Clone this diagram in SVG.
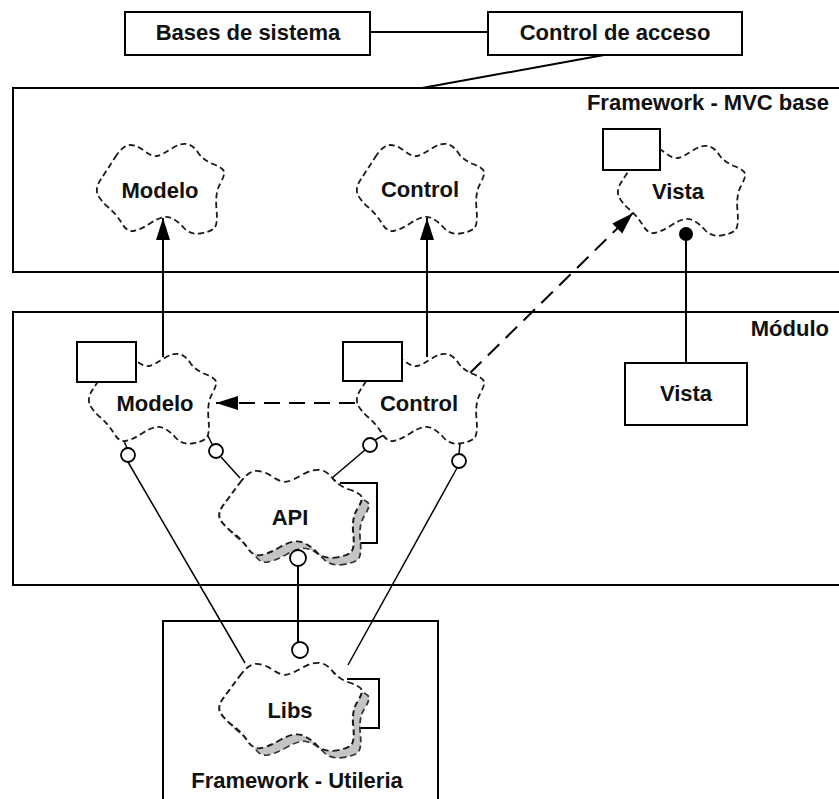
<svg xmlns="http://www.w3.org/2000/svg" xmlns:xlink="http://www.w3.org/1999/xlink" width="839" height="799" viewBox="0 0 839 799">
<style>
.frame{fill:none;stroke:#000;stroke-width:2}
.box{fill:#fff;stroke:#000;stroke-width:2}
.cloud{fill:#fff;stroke:#1a1a1a;stroke-width:1.8;stroke-dasharray:6 3.5}
.shadow{fill:#c4c4c4;stroke:#333;stroke-width:1.6;stroke-dasharray:6 3.5}
.ln{stroke:#000;stroke-width:2;fill:none}
.thin{stroke:#000;stroke-width:1.5;fill:none}
.dash{stroke:#000;stroke-width:2;stroke-dasharray:16 9;fill:none}
.lol{fill:#fff;stroke:#000;stroke-width:1.8}
text{font-family:"Liberation Sans",Arial,sans-serif;font-size:22px;font-weight:bold;fill:#111}
.c{text-anchor:middle}
.r{text-anchor:end}
</style>
<defs>
<path id="cloud" d="M-45,-32.5 Q-37,-45 -30,-45 Q-23,-45 -15.5,-39 Q-8,-33 -3,-34 Q2,-35 11,-41 Q20,-47 26.5,-46 Q33,-45 38,-37.5 Q43,-30 53,-26 Q63,-22 64,-18.5 Q65,-15 60,-6 Q55,3 56.5,19 Q58,35 54,38.5 Q50,42 40,43.5 Q30,45 23.5,37.5 Q17,30 10,27.5 Q3,25 -8.5,32.5 Q-20,40 -26.5,41 Q-33,42 -38,33.5 Q-43,25 -51.5,17.5 Q-60,10 -62.5,4 Q-65,-2 -59,-11 Q-53,-20 -45,-32.5 Z"/>
<marker id="ah" markerUnits="userSpaceOnUse" markerWidth="24" markerHeight="16" refX="22" refY="7" orient="auto">
<path d="M0,0 L22,7 L0,14 Z" fill="#000"/>
</marker>
</defs>

<g id="frame-mvc"><rect class="frame" x="13" y="88" width="840" height="184"/><text class="r" x="829" y="110">Framework - MVC base</text></g>
<g id="frame-modulo"><rect class="frame" x="13" y="312" width="840" height="273"/><text class="r" x="829" y="336">Módulo</text></g>
<g id="frame-utileria"><rect class="frame" x="163" y="621" width="275" height="200"/><text class="c" x="297" y="788">Framework - Utileria</text></g>

<g id="connectors">
<line class="ln" x1="370" y1="32" x2="488" y2="32"/>
<line class="ln" x1="604" y1="55" x2="422" y2="88"/>
<line class="ln" x1="163" y1="357" x2="163" y2="218" marker-end="url(#ah)"/>
<line class="ln" x1="427" y1="357" x2="427" y2="218" marker-end="url(#ah)"/>
<line class="dash" x1="470" y1="373" x2="633" y2="213" marker-end="url(#ah)"/>
<line class="dash" x1="355" y1="403" x2="216" y2="403" marker-end="url(#ah)"/>
<line class="ln" x1="686" y1="236" x2="686" y2="363"/>
<line class="thin" x1="128" y1="462" x2="245" y2="663"/>
<line class="thin" x1="221" y1="457" x2="240" y2="478"/>
<line class="thin" x1="365" y1="450" x2="332" y2="478"/>
<line class="thin" x1="457" y1="468" x2="348" y2="665"/>
<line class="ln" x1="298" y1="566" x2="298" y2="642"/>
<polyline class="ln" points="340,483 377,483 377,543 360,543"/>
<polyline class="ln" points="347,679 379,679 379,728 355,728"/>
<line class="thin" x1="124" y1="441" x2="127" y2="448"/>
<line class="thin" x1="208" y1="436" x2="213" y2="446"/>
<line class="thin" x1="384" y1="435" x2="375" y2="440"/>
<line class="thin" x1="460" y1="443" x2="459" y2="454"/>
</g>

<g id="bases"><rect class="box" x="125" y="12" width="245" height="43"/><text class="c" x="248" y="40">Bases de sistema</text></g>
<g id="acceso"><rect class="box" x="488" y="12" width="254" height="43"/><text class="c" x="615" y="40">Control de acceso</text></g>

<g id="modelo-base"><use href="#cloud" class="cloud" transform="translate(160,190)"/><text class="c" x="160" y="198">Modelo</text></g>
<g id="control-base"><use href="#cloud" class="cloud" transform="translate(420,190)"/><text class="c" x="420" y="197">Control</text></g>
<g id="vista-base"><use href="#cloud" class="cloud" transform="translate(681,192)"/><rect class="box" x="603" y="129" width="57" height="41"/><text class="c" x="678" y="199">Vista</text><circle cx="686" cy="234" r="7" fill="#000"/></g>

<g id="vista-mod"><rect class="box" x="625" y="363" width="122" height="62"/><text class="c" x="686" y="401">Vista</text></g>

<g id="modelo-mod"><use href="#cloud" class="cloud" transform="translate(152,400)"/><rect class="box" x="77" y="342" width="59" height="40"/><text class="c" x="155" y="411">Modelo</text><circle class="lol" cx="128" cy="455" r="7"/><circle class="lol" cx="216" cy="451" r="7"/></g>
<g id="control-mod"><use href="#cloud" class="cloud" transform="translate(420,400)"/><rect class="box" x="343" y="342" width="59" height="39"/><text class="c" x="419" y="411">Control</text><circle class="lol" cx="370" cy="445" r="7"/><circle class="lol" cx="459" cy="461" r="7"/></g>

<g id="api"><use href="#cloud" class="shadow" transform="translate(297,522) scale(1.12,0.98)"/><use href="#cloud" class="cloud" transform="translate(290,515) scale(1.12,0.98)"/><text class="c" x="290" y="525">API</text><circle class="lol" cx="298" cy="558" r="8"/></g>
<g id="libs"><use href="#cloud" class="shadow" transform="translate(297,715) scale(1.12,0.98)"/><use href="#cloud" class="cloud" transform="translate(290,708) scale(1.12,0.98)"/><text class="c" x="290" y="718">Libs</text><circle class="lol" cx="300" cy="650" r="8"/></g>
</svg>
